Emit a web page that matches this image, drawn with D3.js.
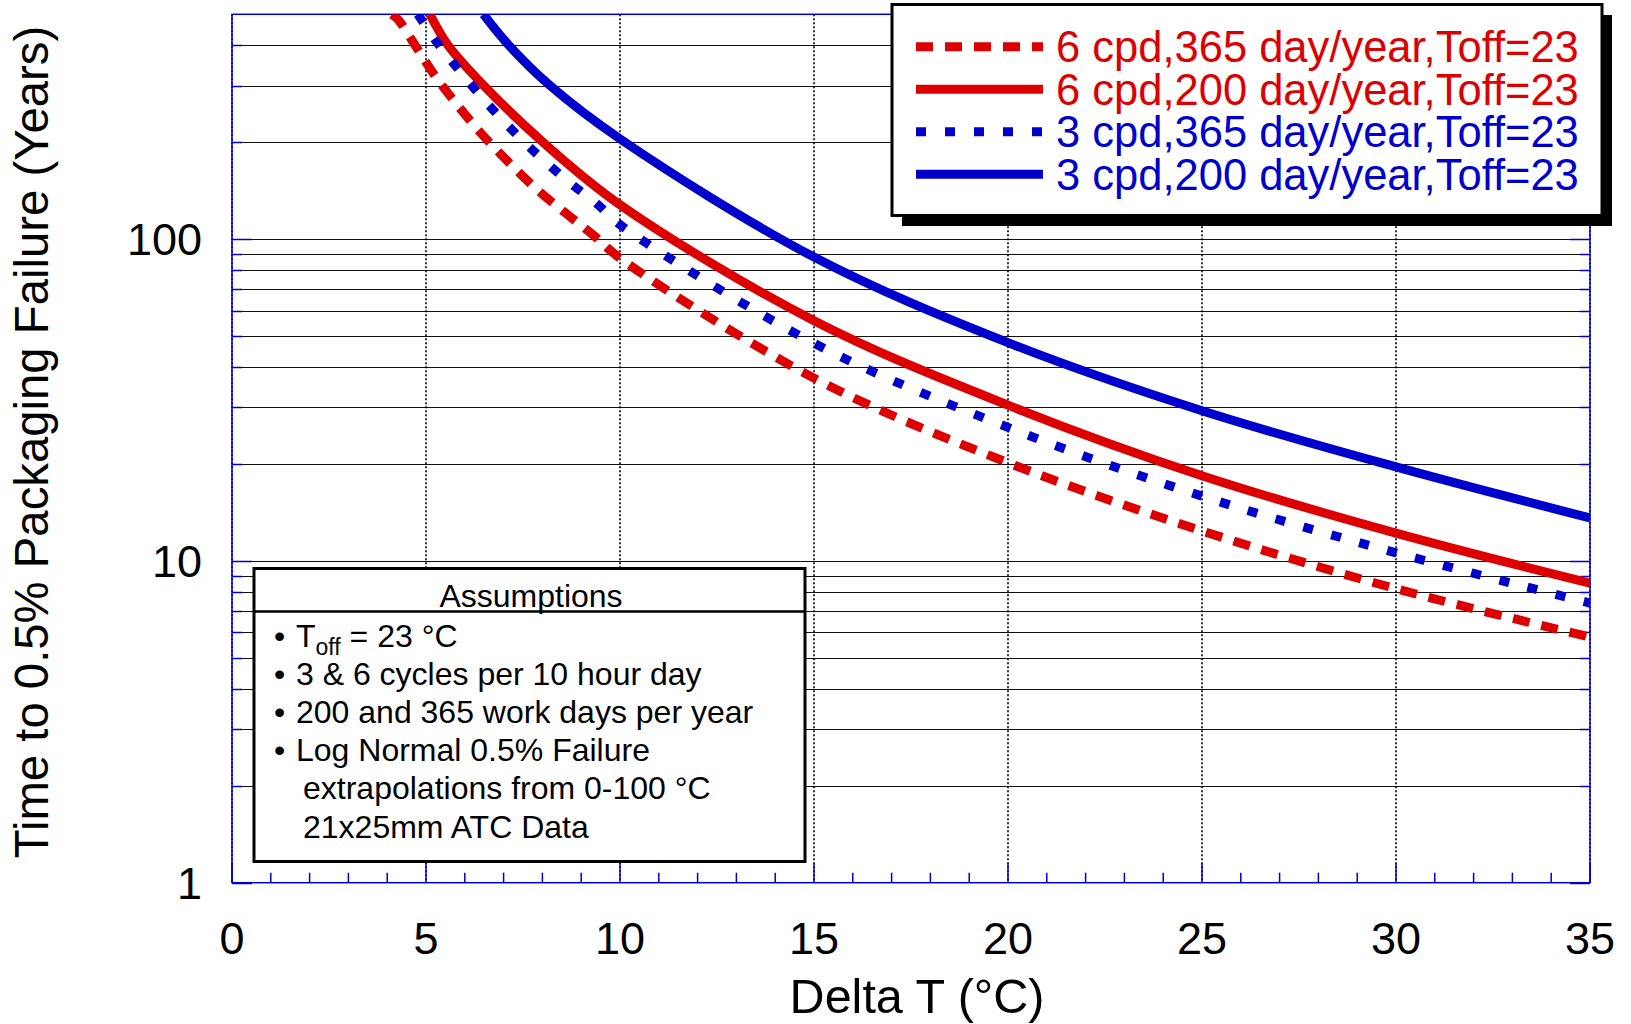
<!DOCTYPE html>
<html><head><meta charset="utf-8">
<script src="https://cdn.jsdelivr.net/npm/d3@7"></script>
<style>
body{margin:0;background:#fff;}
svg{display:block;font-family:"Liberation Sans",Arial,Helvetica,sans-serif;}
</style>
</head><body>
<svg id="chart" width="1631" height="1024"></svg>
<script>
// ---------- data ----------
const xTickValues = [0, 5, 10, 15, 20, 25, 30, 35];
const yTickValues = [1, 10, 100];
const xTitle = "Delta T (\u00B0C)";
const yTitle = "Time to 0.5% Packaging Failure (Years)";

const seriesLabels = [
  "6 cpd,365 day/year,Toff=23",
  "6 cpd,200 day/year,Toff=23",
  "3 cpd,365 day/year,Toff=23",
  "3 cpd,200 day/year,Toff=23"
];
const seriesColors = ["#dc0000", "#dc0000", "#0000cd", "#0000cd"];
const seriesDash = ["17,12", null, "10,19", null];

// 6 cpd, 365 day/year (red dashed)
const red365X = [4.12, 4.29, 4.74, 5.23, 5.79, 6.41, 7.12, 7.85, 8.58, 9.31, 10, 15, 20, 25, 30, 35];
const red365Y = [500, 480, 397, 322, 263, 214, 174, 143, 121, 103, 87.3, 37, 20.2, 12.4, 8.2, 5.8];
// 6 cpd, 200 day/year (red solid)
const red200X = [5.10, 5.57, 6.49, 8.02, 10, 15, 20, 25, 30, 35];
const red200Y = [500, 400, 300, 200, 128, 55.8, 30.5, 18.4, 12.2, 8.53];
// 3 cpd, 365 day/year (blue dotted)
const blue365X = [4.79, 5.30, 5.88, 6.52, 7.18, 7.94, 8.67, 9.40, 10, 15, 20, 25, 30, 35];
const blue365Y = [500, 406, 332, 269, 221, 180, 151, 129, 111, 47.5, 26, 15.9, 10.6, 7.4];
// 3 cpd, 200 day/year (blue solid)
const blue200X = [6.48, 7.14, 8.2, 10, 15, 20, 25, 30, 35];
const blue200Y = [500, 400, 300, 205, 88, 47.7, 29.3, 19.6, 13.6];

const assumptionsTitle = "Assumptions";
const assumptionBullets = [
  {bullet: true, parts: [["T", false], ["off", true], [" = 23 \u00B0C", false]]},
  {bullet: true, parts: [["3 & 6 cycles per 10 hour day", false]]},
  {bullet: true, parts: [["200 and 365 work days per year", false]]},
  {bullet: true, parts: [["Log Normal 0.5% Failure", false]]},
  {bullet: false, parts: [["extrapolations from 0-100 \u00B0C", false]]},
  {bullet: false, parts: [["21x25mm ATC Data", false]]}
];

// ---------- layout ----------
const L = 232, R = 1590, T = 14.3, B = 882.7;
const blue = "#0000cd";
const svg = d3.select("#chart");
const x = d3.scaleLinear().domain([0, 35]).range([L, R]);
const y = d3.scaleLog().domain([1, 500]).range([B, T]);

svg.append("rect").attr("width", 1631).attr("height", 1024).attr("fill", "#fff");

// horizontal gridlines at every log minor
const hGrid = [];
[1, 10, 100].forEach(d => { for (let k = 1; k <= 9; k++) { const v = d * k; if (v > 1 && v < 500) hGrid.push(v); } });
svg.append("g").selectAll("line").data(hGrid).join("line")
  .attr("x1", L).attr("x2", R)
  .attr("y1", d => Math.round(y(d)) + 0.5).attr("y2", d => Math.round(y(d)) + 0.5)
  .attr("stroke", "#111").attr("stroke-width", 1.2);

// vertical dotted gridlines
svg.append("g").selectAll("line").data(xTickValues).join("line")
  .attr("x1", d => x(d)).attr("x2", d => x(d))
  .attr("y1", T).attr("y2", B)
  .attr("stroke", "#000").attr("stroke-width", 1.6).attr("stroke-dasharray", "2,2");

// x ticks (blue, inward)
const xMinor = d3.range(0, 36, 1);
svg.append("g").selectAll("line").data(xMinor).join("line")
  .attr("x1", d => x(d)).attr("x2", d => x(d))
  .attr("y1", B).attr("y2", d => B - (d % 5 === 0 ? 20 : 10))
  .attr("stroke", blue).attr("stroke-width", 1.5);

// y ticks (blue, inward, both sides)
const yTickAll = hGrid.concat([1]);
const isDecade = v => Math.abs(Math.log10(v) - Math.round(Math.log10(v))) < 1e-9;
svg.append("g").selectAll("line").data(yTickAll).join("line")
  .attr("x1", L).attr("x2", d => L + (isDecade(d) ? 20 : 10))
  .attr("y1", d => Math.round(y(d)) + 0.5).attr("y2", d => Math.round(y(d)) + 0.5)
  .attr("stroke", blue).attr("stroke-width", 1.5);
svg.append("g").selectAll("line").data(yTickAll).join("line")
  .attr("x1", R).attr("x2", d => R - (isDecade(d) ? 20 : 10))
  .attr("y1", d => Math.round(y(d)) + 0.5).attr("y2", d => Math.round(y(d)) + 0.5)
  .attr("stroke", blue).attr("stroke-width", 1.5);

// plot border
svg.append("rect").attr("x", L).attr("y", T).attr("width", R - L).attr("height", B - T)
  .attr("fill", "none").attr("stroke", blue).attr("stroke-width", 1.5);

// tick labels
svg.append("g").selectAll("text").data(xTickValues).join("text")
  .attr("x", d => x(d)).attr("y", 954).attr("text-anchor", "middle")
  .attr("font-size", 45).attr("fill", "#000").text(d => d);
svg.append("g").selectAll("text").data(yTickValues).join("text")
  .attr("x", 202).attr("y", d => y(d)).attr("dy", "0.36em").attr("text-anchor", "end")
  .attr("font-size", 45).attr("fill", "#000").text(d => d);

// axis titles
svg.append("text").attr("x", 917).attr("y", 1013).attr("text-anchor", "middle")
  .attr("font-size", 48.5).attr("fill", "#000").text(xTitle);
svg.append("text").attr("transform", "translate(48,442) rotate(-90)").attr("text-anchor", "middle")
  .attr("font-size", 47.3).attr("fill", "#000").text(yTitle);

// curves
svg.append("defs").append("clipPath").attr("id", "clip")
  .append("rect").attr("x", L).attr("y", T).attr("width", R - L).attr("height", B - T);
const seriesX = [red365X, red200X, blue365X, blue200X];
const seriesY = [red365Y, red200Y, blue365Y, blue200Y];
const line = d3.line().x(d => x(d[0])).y(d => y(d[1])).curve(d3.curveCatmullRom.alpha(0.5));
const curves = svg.append("g").attr("clip-path", "url(#clip)");
// draw order: blue solid, red solid, blue dotted, red dashed
[3, 1, 2, 0].forEach(i => {
  const pts = seriesX[i].map((v, j) => [v, seriesY[i][j]]);
  curves.append("path").attr("d", line(pts)).attr("fill", "none")
    .attr("stroke", seriesColors[i]).attr("stroke-width", 9)
    .attr("stroke-dasharray", seriesDash[i]);
});

// legend box
const lg = svg.append("g");
lg.append("rect").attr("x", 902).attr("y", 15).attr("width", 710).attr("height", 211).attr("fill", "#000");
lg.append("rect").attr("x", 892).attr("y", 4.5).attr("width", 710).attr("height", 211)
  .attr("fill", "#fff").attr("stroke", "#000").attr("stroke-width", 3);
seriesLabels.forEach((lab, i) => {
  const cy = 46.7 + i * 42.5;
  lg.append("line").attr("x1", 916).attr("x2", 1043).attr("y1", cy).attr("y2", cy)
    .attr("stroke", seriesColors[i]).attr("stroke-width", 9).attr("stroke-dasharray", seriesDash[i]);
  lg.append("text").attr("x", 1056).attr("y", cy + 15.5).attr("font-size", 43.5)
    .attr("fill", seriesColors[i]).text(lab);
});

// assumptions box
const ab = svg.append("g");
ab.append("rect").attr("x", 254).attr("y", 568.5).attr("width", 551).attr("height", 293)
  .attr("fill", "#fff").attr("stroke", "#000").attr("stroke-width", 3);
ab.append("line").attr("x1", 254).attr("x2", 805).attr("y1", 611.5).attr("y2", 611.5)
  .attr("stroke", "#000").attr("stroke-width", 2.5);
ab.append("text").attr("x", 531).attr("y", 607).attr("text-anchor", "middle")
  .attr("font-size", 32).attr("fill", "#000").text(assumptionsTitle);
assumptionBullets.forEach((row, i) => {
  const by = 646.5 + i * 38.2;
  if (row.bullet) {
    ab.append("text").attr("x", 274).attr("y", by).attr("font-size", 32).attr("fill", "#000").text("\u2022");
  }
  const t = ab.append("text").attr("x", row.bullet ? 296 : 303).attr("y", by)
    .attr("font-size", 32).attr("fill", "#000");
  row.parts.forEach(p => {
    const ts = t.append("tspan").text(p[0]);
    if (p[1]) ts.attr("font-size", 23).attr("dy", 8);
    else if (t.selectAll("tspan").size() > 1) ts.attr("dy", -8);
  });
});
</script>
</body></html>
